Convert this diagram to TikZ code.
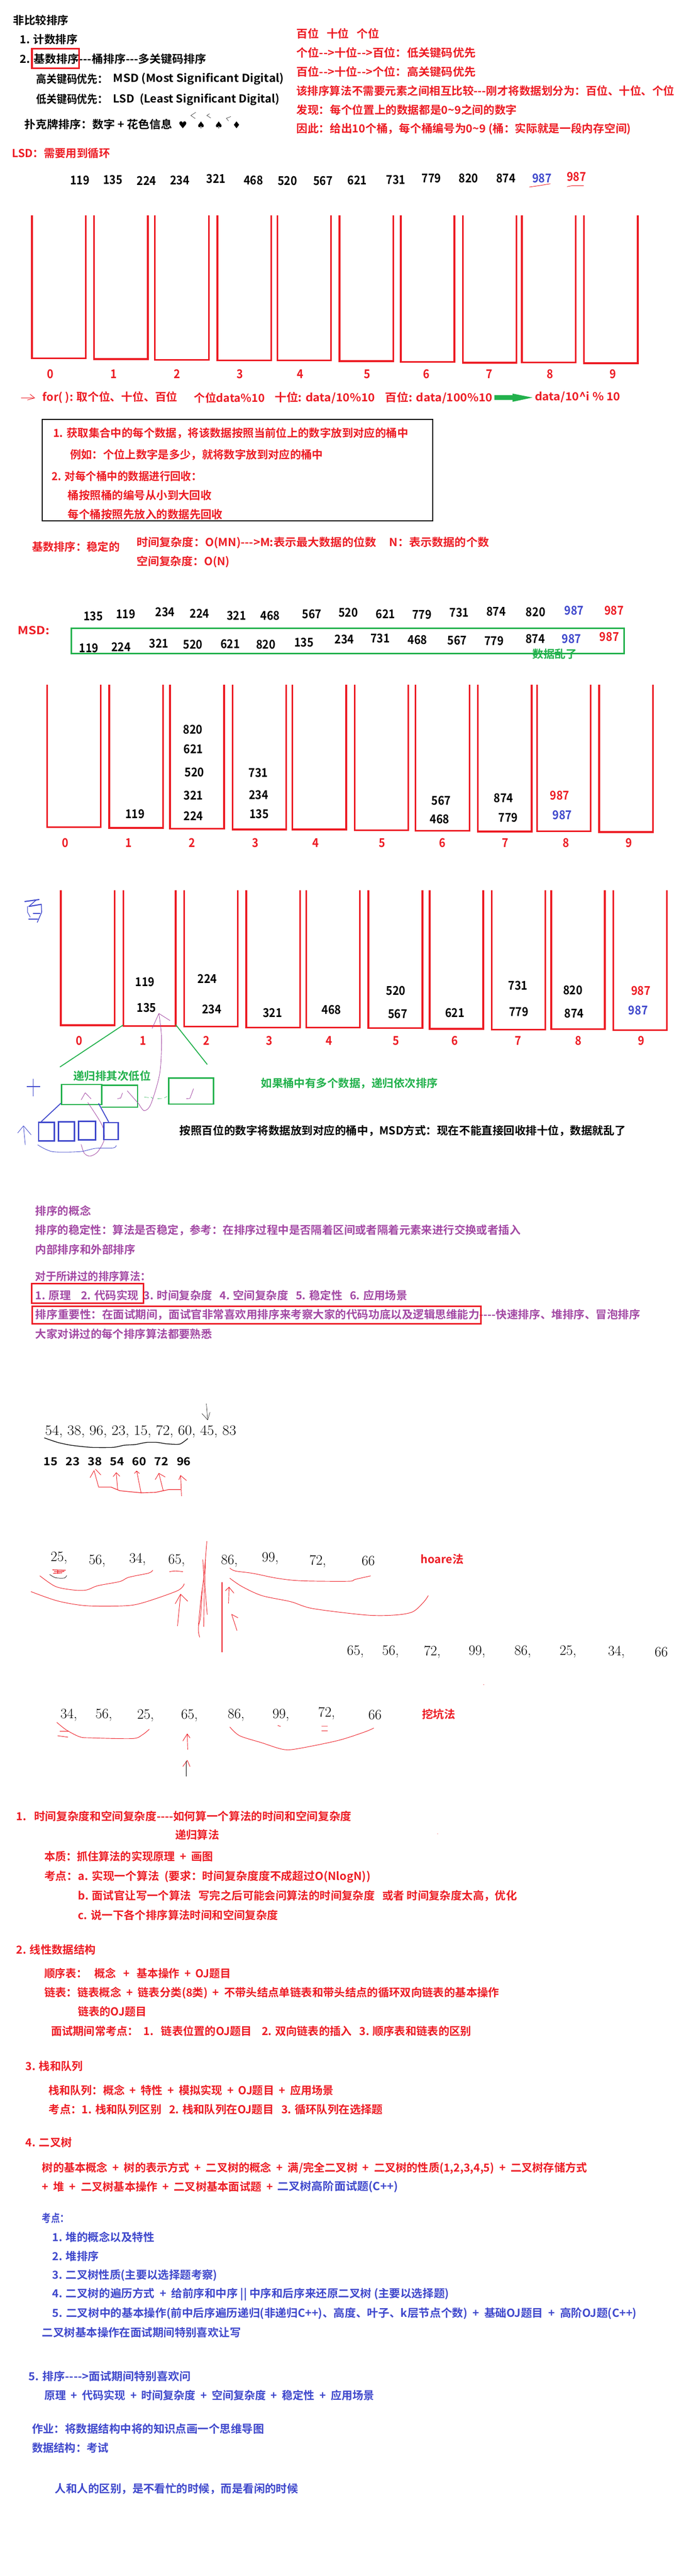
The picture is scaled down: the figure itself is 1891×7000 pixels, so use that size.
\documentclass[tikz,border=0pt]{standalone}
\usepackage{fontspec}
\usepackage{graphicx}
\newfontfamily\cjk[BoldFont={* Bold}]{Noto Sans CJK SC}
\newfontfamily\djv{DejaVu Sans}
\definecolor{mred}{HTML}{ED1C24}
\definecolor{mgreen}{HTML}{22B14C}
\definecolor{mblue}{HTML}{3F48CC}
\definecolor{mpurple}{HTML}{A349A4}
\newcounter{nn}
\newsavebox\fitbox
\newcommand\fitx[2]{\sbox\fitbox{#2}\pgfmathsetmacro\fitr{#1/\the\wd\fitbox}\scalebox{\fitr}[1]{\usebox\fitbox}}
% text line: [colour]{x0}{y}{x1}{text}
\newcommand\tl[5][mred]{\stepcounter{nn}\node[tx,text=#1] (n\arabic{nn}) at (#2,#3) {\fitx{(#4-#2)*1.206}{#5}};}
% number: [colour]{x}{y}{text}
\newcommand\numn[4][black]{\stepcounter{nn}\node[nx,text=#1] (n\arabic{nn}) at (#2,#3) {\scalebox{.9}[1]{#4}};}
% serif number
\newcommand\sn[3]{\stepcounter{nn}\node[sx] (n\arabic{nn}) at (#1,#2) {#3};}
\newcommand\bucketrow[2]{\foreach \a/\b/\c in {#2}{\draw[bk] ({\a+2},#1) -- ({\a+2},{\c-6}) -- ({\b-2},{\c-6}) -- ({\b-2},#1);}}
\tikzset{
 tx/.style={anchor=west,inner sep=0pt,outer sep=0pt,font=\cjk\bfseries\fontsize{30}{30}\selectfont},
 nx/.style={anchor=center,inner sep=0pt,outer sep=0pt,font=\cjk\bfseries\fontsize{33}{33}\selectfont},
 sx/.style={anchor=center,inner sep=0pt,outer sep=0pt,font=\fontsize{39}{39}\selectfont},
 bk/.style={draw=mred,line width=4.6pt,line join=miter},
 hr/.style={draw=mred,line width=1.3pt,line cap=round,line join=round},
 hp/.style={draw=mpurple,line width=1.2pt,line cap=round,line join=round},
 hb/.style={draw=mblue,line width=1.2pt,line cap=round,line join=round},
 hk/.style={draw=black,line width=1.2pt,line cap=round,line join=round},
 zm/.style={x=1.206pt,y=-0.3827pt,yshift=#1},
 zl/.style={x=1.206pt,y=-0.638pt,yshift=#1},
}
\begin{document}
\begin{tikzpicture}[x=1pt,y=1pt]
\fill[white] (0,0) rectangle (1891,-7000);
\useasboundingbox (0,0) rectangle (1891,-7000);

% ---------- zoom 1
\begin{scope}[zm=0pt]
\tl[black]{30}{145}{155}{非比较排序}
\tl[black]{45}{280}{175}{1. 计数排序}
\tl[black]{45}{417}{465}{2. 基数排序---桶排序---多关键码排序}
\draw[draw=mred,line width=5pt] (72,346) rectangle (178,484);
\tl[black]{82}{560}{243}{高关键码优先：}
\tl[black]{255}{560}{640}{MSD (Most Significant Digital)}
\tl[black]{82}{705}{243}{低关键码优先：}
\tl[black]{255}{705}{630}{LSD~~(Least Significant Digital)}
\tl[black]{55}{882}{388}{扑克牌排序：数字~+~花色信息}
\foreach \x/\s in {412/♥,453/♠,493/♠,533/♦}{\stepcounter{nn}\node[inner sep=0pt,font=\djv\fontsize{26}{26}\selectfont] (n\arabic{nn}) at (\x,889) {\s};}
\draw[hk,line width=.7pt] (441,798) -- (430,820) -- (440,842);
\draw[hk,line width=.7pt] (472,808) -- (466,820) -- (475,838);
\draw[hk,line width=.7pt] (520,828) -- (510,840) -- (515,858);
\tl{668}{237}{855}{百位~~~十位~~~个位}
\tl{668}{373}{1072}{个位-->十位-->百位：低关键码优先}
\tl{668}{509}{1072}{百位-->十位-->个位：高关键码优先}
\tl{668}{645}{1520}{该排序算法不需要元素之间相互比较---刚才将数据划分为：百位、十位、个位}
\tl{668}{780}{1165}{发现：每个位置上的数据都是0\textasciitilde 9之间的数字}
\tl{668}{917}{1422}{因此：给出10个桶，每个桶编号为0\textasciitilde 9 (桶：实际就是一段内存空间)}
\tl{27}{1087}{248}{LSD：需要用到循环}
\foreach \x/\y/\t in {180/1282/119,254/1278/135,330/1282/224,405/1280/234,487/1270/321,571/1280/468,648/1285/520,728/1285/567,805/1280/621,892/1277/731,972/1264/779,1056/1266/820,1140/1264/874}{\numn{\x}{\y}{\t}}
\numn[mblue]{1221}{1264}{987}
\numn[mred]{1299}{1254}{987}
\draw[hr] (1193,1328) -- (1215,1318) -- (1240,1305);
\draw[hr] (1278,1325) -- (1290,1318) -- (1315,1318);
\end{scope}

% ---------- bucket rows
\begin{scope}[zm=-600pt]
\bucketrow{-40}{70/195/983,210/335/988,347/473/993,488/613/998,623/748/998,763/888/1003,901/1026/1008,1041/1166/1014,1174/1299/1011,1314/1439/1017}
\foreach \x/\t in {113/0,256/1,399/2,541/3,677/4,827/5,961/6,1103/7,1239/8,1381/9}{\numn[mred]{\x}{1088}{\t}}
\draw[hr] (48,1258) -- (78,1258); \draw[hr] (68,1232) -- (78,1258) -- (62,1272);
\tl{96}{1255}{400}{for( ): 取个位、十位、百位}
\tl{437}{1258}{597}{个位data\%10}
\tl{619}{1258}{845}{十位: data/10\%10}
\tl{868}{1258}{1110}{百位: data/100\%10}
\fill[mgreen] (1114,1238) -- (1155,1238) -- (1155,1227) -- (1200,1255) -- (1155,1285) -- (1155,1272) -- (1114,1272) -- cycle;
\tl{1205}{1252}{1398}{data/10\textasciicircum i \% 10}
\draw[black,line width=3pt] (95,1411) rectangle (975,2131);
\tl{120}{1507}{920}{1. 获取集合中的每个数据，将该数据按照当前位上的数字放到对应的桶中}
\end{scope}

\begin{scope}[zm=-1200pt]
\tl{158}{95}{728}{例如：个位上数字是多少，就将数字放到对应的桶中}
\tl{117}{245}{455}{2. 对每个桶中的数据进行回收：}
\tl{153}{381}{477}{桶按照桶的编号从小到大回收}
\tl{153}{516}{502}{每个桶按照先放入的数据先回收}
\tl{72}{748}{270}{基数排序：稳定的}
\tl{308}{718}{1102}{时间复杂度：O(MN)--->M:表示最大数据的位数~~~~~N：表示数据的个数}
\tl{308}{853}{518}{空间复杂度：O(N)}
\foreach \x/\y/\t in {210/1238/135,283/1224/119,372/1212/234,450/1222/224,533/1235/321,609/1235/468,703/1225/567,785/1214/520,869/1225/621,951/1227/779,1035/1214/731,1118/1206/874,1207/1211/820}{\numn{\x}{\y}{\t}}
\numn[mblue]{1294}{1200}{987}
\numn[mred]{1384}{1198}{987}
\tl{40}{1342}{112}{MSD:}
\draw[draw=mgreen,line width=4.5pt] (161,1326) rectangle (1406,1504);
\foreach \x/\y/\t in {200/1465/119,273/1457/224,358/1432/321,435/1440/520,519/1436/621,599/1440/820,685/1426/135,776/1404/234,857/1397/731,941/1406/468,1030/1410/567,1113/1414/779,1206/1402/874}{\numn{\x}{\y}{\t}}
\numn[mblue]{1288}{1400}{987}
\numn[mred]{1373}{1386}{987}
\tl[mgreen]{1200}{1508}{1300}{数据乱了}
\end{scope}

\begin{scope}[zm=-1800pt]
\bucketrow{159}{104/229/1176,244/369/1181,381/507/1186,522/647/1192,657/782/1192,797/922/1197,934/1060/1202,1075/1200/1207,1208/1333/1205,1348/1473/1210}
\foreach \x/\t in {147/0,290/1,433/2,575/3,711/4,861/5,997/6,1139/7,1275/8,1417/9}{\numn[mred]{\x}{1281}{\t}}
\foreach \x/\y/\t in {304/1076/119,435/475/820,436/616/621,438/781/520,436/943/321,436/1089/224,582/784/731,583/941/234,584/1077/135,994/983/567,991/1112/468,1135/964/874,1145/1102/779}{\numn{\x}{\y}{\t}}
\numn[mred]{1261}{946}{987}
\numn[mblue]{1267}{1084}{987}
\end{scope}

\begin{scope}[zm=-2400pt]
\bucketrow{50}{135/260/1014,276/398/1019,413/538/1024,553/678/1030,688/813/1030,828/954/1035,966/1091/1040,1106/1231/1045,1240/1365/1043,1380/1505/1048}
\foreach \x/\t in {179/0,322/1,465/2,607/3,742/4,892/5,1025/6,1167/7,1303/8,1445/9}{\numn[mred]{\x}{1118}{\t}}
\foreach \x/\y/\t in {327/700/119,330/885/135,467/680/224,477/895/234,614/922/321,747/897/468,892/765/520,896/928/567,1025/921/621,1167/726/731,1169/913/779,1291/760/820,1294/925/874}{\numn{\x}{\y}{\t}}
\numn[mred]{1444}{763}{987}
\numn[mblue]{1438}{901}{987}
% blue scribble
\draw[hb,line width=3pt] (56,130) -- (88,116);
\draw[hb,line width=2pt] (82,118) -- (65,165);
\draw[hb,line width=3pt] (65,165) -- (93,150);
\draw[hb,line width=1.5pt] (62,165) -- (62,205) -- (68,240);
\draw[hb,line width=2pt] (93,150) -- (94,205) -- (84,278);
\draw[hb,line width=3pt] (75,215) -- (90,215);
\draw[hb,line width=3pt] (65,256) -- (85,256);
% green fan
\draw[mgreen,line width=2.5pt] (277,1008) -- (135,1305);
\draw[mgreen,line width=2.5pt] (396,1005) -- (467,1287);
\tl[mgreen]{165}{1367}{340}{递归排其次低位}
\tl[mgreen]{588}{1420}{987}{如果桶中有多个数据，递归依次排序}
% blue plus
\draw[mblue,line width=1.5pt] (75,1390) -- (75,1515);
\draw[mblue,line width=3pt] (60,1445) -- (91,1445);
% green boxes
\draw[mgreen,line width=3.5pt] (139,1430) rectangle (229,1572);
\draw[mgreen,line width=3.5pt] (229,1435) -- (310,1435) -- (310,1590) -- (229,1590);
\draw[mgreen,line width=3.5pt] (380,1384) rectangle (481,1568);
% small green dashes
\draw[mgreen,line width=.8pt] (325,1518) -- (335,1522) (340,1518) -- (345,1530) (355,1530) -- (365,1528) (370,1525) -- (376,1515);
% purple
\draw[hp] plot[smooth,tension=.5] coordinates {(313,1568) (325,1615) (340,1568) (360,1350) (364,1100) (358,925)};
\draw[hp] (343,1030) -- (358,925) -- (383,975);
\draw[hp] (183,1538) -- (192,1488) -- (205,1530);
\draw[hp] (265,1530) -- (272,1525) -- (276,1490);
\draw[hp] (287,1475) -- (313,1568);
\draw[hp] (420,1530) -- (428,1528) -- (436,1460);
\end{scope}

\begin{scope}[zm=-3000pt]
\draw[hp] plot[smooth,tension=.5] coordinates {(183,288) (190,350) (203,370) (220,340) (235,250) (230,150) (198,-10)};
\draw[mblue,line width=2.5pt] (137,-5) -- (93,125);
\draw[mblue,line width=2.5pt] (222,-5) -- (245,128);
\draw[mblue,line width=4pt] (87,129) rectangle (122,261);
\draw[mblue,line width=4pt] (132,127) rectangle (168,261);
\draw[mblue,line width=4pt] (177,122) rectangle (215,256);
\draw[mblue,line width=4pt] (234,132) rectangle (266,253);
\draw[hb] (57,290) -- (53,160);
\draw[hb] (40,205) -- (53,155) -- (70,218);
\draw[hb] plot[smooth,tension=.5] coordinates {(85,290) (118,338) (180,338) (215,315) (255,312) (262,295)};
\tl[black]{405}{190}{1410}{按照百位的数字将数据放到对应的桶中，MSD方式：现在不能直接回收排十位，数据就乱了}
\tl[mpurple]{80}{760}{205}{排序的概念}
\tl[mpurple]{80}{895}{1173}{排序的稳定性：算法是否稳定，参考：在排序过程中是否隔着区间或者隔着元素来进行交换或者插入}
\tl[mpurple]{80}{1032}{305}{内部排序和外部排序}
\tl[mpurple]{80}{1225}{340}{对于所讲过的排序算法：}
\tl[mpurple]{80}{1360}{918}{1. 原理~~~~2. 代码实现~~3. 时间复杂度~~~4. 空间复杂度~~~5. 稳定性~~~6. 应用场景}
\tl[mpurple]{80}{1495}{1443}{排序重要性：在面试期间，面试官非常喜欢用排序来考察大家的代码功底以及逻辑思维能力----快速排序、堆排序、冒泡排序}
\draw[mred,line width=4.5pt] (71,1276) rectangle (323,1414);
\draw[mred,line width=4.5pt] (73,1436) rectangle (1084,1562);
\end{scope}

\begin{scope}[zm=-3600pt]
\tl[mpurple]{80}{65}{478}{大家对讲过的每个排序算法都要熟悉}
\draw[hk,line width=.8pt] (465,560) -- (468,675);
\draw[hk,line width=.8pt] (455,630) -- (468,675) -- (473,622);
\stepcounter{nn}\node[sx,anchor=center] (n\arabic{nn}) at (317,757) {\fitx{519}{54, 38, 96, 23, 15, 72, 60, 45, 83}};
\draw[hk,line width=1.8pt] plot[smooth,tension=.4] coordinates {(100,803) (130,835) (160,855) (205,870) (255,870) (280,855) (305,850) (330,835) (355,835) (375,845) (405,847) (423,808)};
\tl[black]{98}{972}{430}{15~~~23~~~38~~~54~~~60~~~72~~~96}
\draw[hr] (222,1150) -- (212,1035); \draw[hr] (203,1085) -- (212,1035); \draw[hr] (215,1025) -- (227,1065);
\draw[hr] (265,1170) -- (262,1050); \draw[hr] (255,1078) -- (262,1050) -- (270,1075);
\draw[hr] (318,1195) -- (308,1038); \draw[hr] (303,1055) -- (308,1038) -- (314,1055);
\draw[hr] (368,1180) -- (358,1055); \draw[hr] (350,1098) -- (358,1055) -- (372,1080);
\draw[hr] (409,1215) -- (407,1070); \draw[hr] (403,1100) -- (407,1070) -- (420,1105);
\draw[hr,line width=1.6pt] (222,1152) -- (250,1152) -- (270,1178) -- (318,1193) -- (350,1190) -- (380,1170) -- (407,1170);
\end{scope}

\begin{scope}[zm=-4200pt]
\foreach \x/\y/\t in {133/88/{25,},219/110/{56,},310/100/{34,},398/105/{65,},517/110/{86,},609/92/{99,},716/112/{72,},830/108/{66}}{\sn{\x}{\y}{\t}}
\tl{948}{97}{1045}{hoare法}
\draw[hk,line width=1pt] plot[smooth,tension=.5] coordinates {(112,205) (125,228) (145,230) (150,212)};
\draw[mred,line width=1.8pt] (118,172) -- (148,175) (122,185) -- (145,183) (120,197) -- (140,193) (130,172) -- (130,200);
\draw[hr] plot[smooth,tension=.5] coordinates {(90,215) (125,290) (165,315) (195,315) (220,285) (270,255) (290,225) (335,195) (344,175)};
\draw[hr] plot[smooth,tension=.5] coordinates {(382,185) (395,180) (412,185)};
\draw[hr] plot[smooth,tension=.5] coordinates {(518,160) (530,180) (570,197) (625,232) (680,250) (785,253) (800,240) (835,215)};
\draw[hr] plot[smooth,tension=.5] coordinates {(70,327) (130,393) (195,427) (283,427) (325,403) (400,320) (415,272)};
\draw[hr] plot[smooth,tension=.5] coordinates {(518,232) (545,290) (590,355) (655,398) (705,447) (825,493) (890,493) (930,470) (955,400) (965,355)};
\draw[hr] (400,570) -- (407,345); \draw[hr] (395,412) -- (407,345) -- (423,395);
\draw[hr] (515,410) -- (516,295); \draw[hr] (508,320) -- (516,295) -- (527,337);
\draw[hr] (534,603) -- (522,488) -- (536,512);
\draw[hr] plot[smooth,tension=.5] coordinates {(466,-30) (460,200) (452,400) (447,590) (450,650)};
\draw[hr] plot[smooth,tension=.5] coordinates {(457,100) (460,300) (459,575)};
\draw[hr] plot[smooth,tension=.5] coordinates {(463,100) (462,280) (467,490)};
\draw[hr] plot[smooth,tension=.5] coordinates {(456,300) (452,500) (448,560)};
\draw[hr,line width=2.5pt] (500,262) -- (500,755);
\foreach \x/\t in {801/{65,},880/{56,},974/{72,},1075/{99,},1178/{86,},1280/{25,},1389/{34,},1490/{66}}{\sn{\x}{755}{\t}}
\fill[mred] (1090,987) circle (1pt);
\foreach \x/\y/\t in {155/1203/{34,},234/1203/{56,},328/1208/{25,},427/1208/{65,},532/1203/{86,},633/1202/{99,},736/1190/{72,},845/1200/{66}}{\sn{\x}{\y}{\t}}
\tl{951}{1198}{1026}{挖坑法}
\draw[hr] plot[smooth,tension=.5] coordinates {(128,1255) (150,1310) (180,1358) (205,1365) (298,1370) (320,1345) (336,1305)};
\draw[hr] plot[smooth,tension=.5] coordinates {(518,1288) (540,1350) (590,1400) (635,1445) (665,1445) (760,1385) (820,1325) (842,1296)};
\draw[hr] (135,1318) -- (155,1318) (130,1350) -- (153,1360) (626,1277) -- (632,1284) (725,1283) -- (738,1283) (725,1315) -- (738,1315);
\draw[hr] (423,1448) -- (422,1337); \draw[hr] (412,1387) -- (422,1337) -- (428,1365);
\draw[hr] (412,1568) -- (422,1525) -- (428,1568);
\draw[black,line width=.6pt] (419,1530) -- (419,1640);
\end{scope}

\begin{scope}[zm=-4800pt]
\tl{37}{352}{792}{1.~~~时间复杂度和空间复杂度----如何算一个算法的时间和空间复杂度}
\tl{395}{487}{494}{递归算法}
\fill[mred] (986,478) circle (.8pt);
\tl{100}{640}{480}{本质：抓住算法的实现原理~~+~~画图}
\tl{100}{785}{835}{考点：a. 实现一个算法~~(要求：时间复杂度度不成超过O(NlogN))}
\tl{176}{920}{1165}{b. 面试官让写一个算法~~~写完之后可能会问算法的时间复杂度~~~或者~时间复杂度太高，优化}
\tl{176}{1055}{627}{c. 说一下各个排序算法时间和空间复杂度}
\tl{37}{1303}{216}{2. 线性数据结构}
\tl{100}{1470}{520}{顺序表：~~~概念~~~+~~~基本操作~~+~~OJ题目}
\end{scope}

\begin{scope}[zm=-5400pt]
\tl{100}{40}{1125}{链表：链表概念~~+~~链表分类(8类)~~+~~不带头结点单链表和带头结点的循环双向链表的基本操作}
\tl{176}{173}{330}{链表的OJ题目}
\tl{115}{310}{1062}{面试期间常考点：~~1.~~~链表位置的OJ题目~~~~2. 双向链表的插入~~~3. 顺序表和链表的区别}
\tl{58}{560}{187}{3. 栈和队列}
\tl{110}{733}{752}{栈和队列：概念~~+~~特性~~+~~模拟实现~~+~~OJ题目~~+~~应用场景}
\tl{110}{868}{863}{考点：1. 栈和队列区别~~~2. 栈和队列在OJ题目~~~3. 循环队列在选择题}
\tl{58}{1103}{162}{4. 二叉树}
\tl{95}{1285}{1323}{树的基本概念~~+~~树的表示方式~~+~~二叉树的概念~~+~~满/完全二叉树~~+~~二叉树的性质(1,2,3,4,5)~~+~~二叉树存储方式}
\tl{95}{1415}{615}{+~~堆~~+~~二叉树基本操作~~+~~二叉树基本面试题~~+}
\tl[mblue]{625}{1415}{897}{二叉树高阶面试题(C++)}
\end{scope}

\begin{scope}[zl=-6000pt]
\tl[mblue]{95}{42}{155}{考点：}
\tl[mblue]{118}{123}{348}{1. 堆的概念以及特性}
\tl[mblue]{118}{205}{223}{2. 堆排序}
\tl[mblue]{118}{287}{490}{3. 二叉树性质(主要以选择题考察)}
\tl[mblue]{118}{368}{1012}{4. 二叉树的遍历方式~~+~~给前序和中序~||~中序和后序来还原二叉树~(主要以选择题)}
\tl[mblue]{118}{450}{1435}{5. 二叉树中的基本操作(前中后序遍历递归(非递归C++)、高度、叶子、k层节点个数)~~+~~基础OJ题目~~+~~高阶OJ题(C++)}
\tl[mblue]{95}{530}{543}{二叉树基本操作在面试期间特别喜欢让写}
\tl[mblue]{65}{716}{430}{5. 排序---->面试期间特别喜欢问}
\tl[mblue]{100}{798}{843}{原理~~+~~代码实现~~+~~时间复杂度~~+~~空间复杂度~~+~~稳定性~~+~~应用场景}
\tl[mblue]{72}{940}{595}{作业：将数据结构中将的知识点画一个思维导图}
\tl[mblue]{72}{1022}{245}{数据结构：考试}
\tl[mblue]{124}{1195}{672}{人和人的区别，是不看忙的时候，而是看闲的时候}
\end{scope}
\end{tikzpicture}
\end{document}
